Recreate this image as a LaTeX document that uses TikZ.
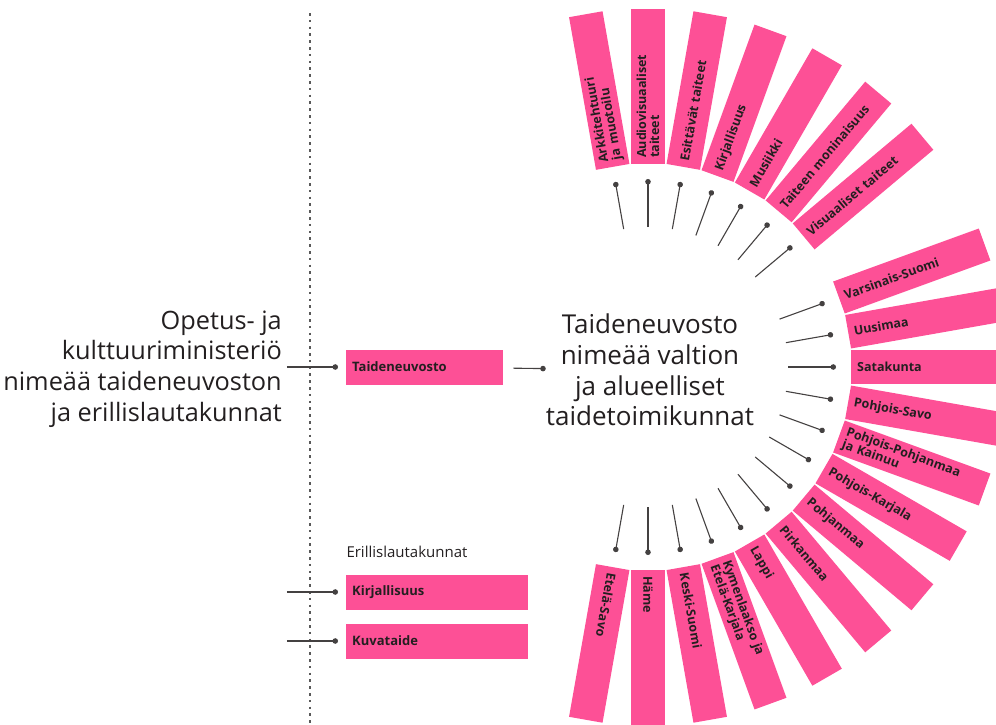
\documentclass[tikz,border=0pt]{standalone}
\usepackage{fontspec}
\setmainfont{Open Sans}
\usetikzlibrary{arrows.meta}

\definecolor{fanpink}{RGB}{253,80,150}
\definecolor{inkgray}{RGB}{35,31,32}

\tikzset{
  bar/.style={fill=fanpink, anchor=west, minimum height=34pt, text width=143pt,
    inner xsep=6pt, inner ysep=1pt, align=left, text=inkgray,
    font=\fontsize{12.5}{13}\selectfont\bfseries},
  box/.style={fill=fanpink, anchor=west, minimum height=35pt, inner xsep=6pt,
    align=left, text=inkgray, font=\fontsize{13}{15}\selectfont\bfseries},
  bigtext/.style={inner sep=0pt, text=inkgray, font=\fontsize{26}{30.7}\selectfont},
  pin/.style={-{Circle[length=5.5pt, width=5.5pt]}, line width=1.1pt, draw=inkgray!85},
}

\begin{document}
\begin{tikzpicture}[x=1pt, y=1pt]
            \clip (-648,-357) rectangle (348,367);

            % Ministry and the dotted border
            \node[bigtext, align=right, anchor=east, font=\fontsize{25.3}{30.7}\selectfont] (okm) at (-366,-2) {Opetus- ja\\kulttuuriministeriö\\nimeää taideneuvoston\\ja erillislautakunnat};
            \draw[black!65, line width=2.6pt, dash pattern=on 2.6pt off 4.2pt] (-338,354) -- (-338,-357);

            % Arts council
            \node[box, text width=145pt] (tn) at (-302,0) {Taideneuvosto};
            \coordinate (tnin) at (-361,0);
            \draw[pin, shorten >=8pt] (tnin) -- (tn);
            \node[bigtext, align=center] (mid) at (2,-3) {Taideneuvosto\\nimeää valtion\\ja alueelliset\\taidetoimikunnat};
            \draw[pin, shorten <=10pt] (tn) -- (mid);

            % Separate boards
            \node[anchor=west, text=inkgray, font=\fontsize{15}{17}\selectfont] (eri) at (-305,-185) {Erillislautakunnat};
            \node[box, text width=170pt] (kirjl) at (-302,-225) {Kirjallisuus};
            \node[box, text width=170pt] (kuva) at (-302,-274) {Kuvataide};
            \coordinate (kirjlin) at (-361,-225);
            \coordinate (kuvain) at (-361,-274);
            \draw[pin, shorten >=8pt] (kirjlin) -- (kirjl);
            \draw[pin, shorten >=8pt] (kuvain) -- (kuva);

            % National arts councils
            \node[bar, rotate=100] (arkk) at (100:203) {Arkkitehtuuri\\ja muotoilu};
            \node[bar, rotate=90] (audio) at (90:203) {Audiovisuaaliset\\taiteet};
            \node[bar, rotate=80] (esit) at (80:203) {Esittävät taiteet};
            \node[bar, rotate=70] (kirj) at (70:203) {Kirjallisuus};
            \node[bar, rotate=60] (musi) at (60:203) {Musiikki};
            \node[bar, rotate=50] (moni) at (50:203) {Taiteen moninaisuus};
            \node[bar, rotate=40] (visu) at (40:203) {Visuaaliset taiteet};

            % Regional arts councils
            \node[bar, rotate=20] (vars) at (20:203) {Varsinais-Suomi};
            \node[bar, rotate=10] (uusi) at (10:203) {Uusimaa};
            \node[bar, rotate=0] (sata) at (0:203) {Satakunta};
            \node[bar, rotate=-10] (psav) at (-10:203) {Pohjois-Savo};
            \node[bar, rotate=-20] (ppoh) at (-20:203) {Pohjois-Pohjanmaa\\ja Kainuu};
            \node[bar, rotate=-30] (pkar) at (-30:203) {Pohjois-Karjala};
            \node[bar, rotate=-40] (pohj) at (-40:203) {Pohjanmaa};
            \node[bar, rotate=-50] (pirk) at (-50:203) {Pirkanmaa};
            \node[bar, rotate=-60] (lapp) at (-60:203) {Lappi};
            \node[bar, rotate=-70] (kyme) at (-70:203) {Kymenlaakso ja\\Etelä-Karjala};
            \node[bar, rotate=-80] (kesk) at (-80:203) {Keski-Suomi};
            \node[bar, rotate=-90] (hame) at (-90:203) {Häme};
            \node[bar, rotate=-100] (esav) at (-100:203) {Etelä-Savo};

            % Pins towards the national councils
            \coordinate (arkkp) at (100:140);
            \coordinate (audiop) at (90:140);
            \coordinate (esitp) at (80:140);
            \coordinate (kirjp) at (70:140);
            \coordinate (musip) at (60:140);
            \coordinate (monip) at (50:140);
            \coordinate (visup) at (40:140);
            \draw[pin, shorten >=15pt] (arkkp) -- (arkk.west);
            \draw[pin, shorten >=15pt] (audiop) -- (audio.west);
            \draw[pin, shorten >=15pt] (esitp) -- (esit.west);
            \draw[pin, shorten >=15pt] (kirjp) -- (kirj.west);
            \draw[pin, shorten >=15pt] (musip) -- (musi.west);
            \draw[pin, shorten >=15pt] (monip) -- (moni.west);
            \draw[pin, shorten >=15pt] (visup) -- (visu.west);

            % Pins towards the regional councils
            \coordinate (varsp) at (20:140);
            \coordinate (uusip) at (10:140);
            \coordinate (satap) at (0:140);
            \coordinate (psavp) at (-10:140);
            \coordinate (ppohp) at (-20:140);
            \coordinate (pkarp) at (-30:140);
            \coordinate (pohjp) at (-40:140);
            \coordinate (pirkp) at (-50:140);
            \coordinate (lappp) at (-60:140);
            \coordinate (kymep) at (-70:140);
            \coordinate (keskp) at (-80:140);
            \coordinate (hamep) at (-90:140);
            \coordinate (esavp) at (-100:140);
            \draw[pin, shorten >=15pt] (varsp) -- (vars.west);
            \draw[pin, shorten >=15pt] (uusip) -- (uusi.west);
            \draw[pin, shorten >=15pt] (satap) -- (sata.west);
            \draw[pin, shorten >=15pt] (psavp) -- (psav.west);
            \draw[pin, shorten >=15pt] (ppohp) -- (ppoh.west);
            \draw[pin, shorten >=15pt] (pkarp) -- (pkar.west);
            \draw[pin, shorten >=15pt] (pohjp) -- (pohj.west);
            \draw[pin, shorten >=15pt] (pirkp) -- (pirk.west);
            \draw[pin, shorten >=15pt] (lappp) -- (lapp.west);
            \draw[pin, shorten >=15pt] (kymep) -- (kyme.west);
            \draw[pin, shorten >=15pt] (keskp) -- (kesk.west);
            \draw[pin, shorten >=15pt] (hamep) -- (hame.west);
            \draw[pin, shorten >=15pt] (esavp) -- (esav.west);
\end{tikzpicture}
\end{document}
